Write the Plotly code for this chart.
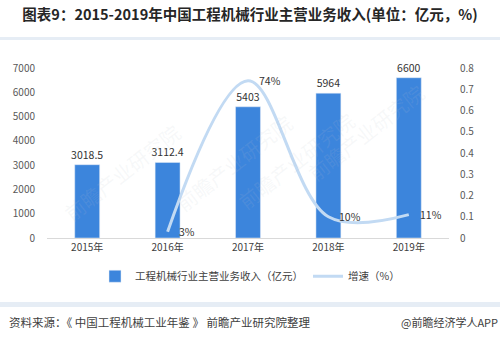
import plotly.graph_objects as go

# Revenue of China's construction machinery industry, 2015-2019
years = ["2015年", "2016年", "2017年", "2018年", "2019年"]
revenue = [3018.5, 3112.4, 5403, 5964, 6600]          # 亿元
growth = [None, 0.03, 0.74, 0.10, 0.11]               # growth rate
growth_labels = ["", "3%", "74%", "10%", "11%"]
revenue_labels = ["3018.5", "3112.4", "5403", "5964", "6600"]

FONT = "Noto Sans CJK SC"
TICK = "#595959"

fig = go.Figure()

fig.add_trace(go.Bar(
    x=years, y=revenue, name="工程机械行业主营业务收入（亿元）",
    marker=dict(color="#3c85dc"), width=0.31,
    text=revenue_labels, textposition="outside", cliponaxis=False,
    constraintext="none",
    textfont=dict(size=10.5, color="#333333", family=FONT),
))

fig.add_trace(go.Scatter(
    x=years, y=growth, name="增速（%）", yaxis="y2",
    mode="lines", line=dict(color="#c2daf3", width=3, shape="spline", smoothing=1.0),
    connectgaps=False, cliponaxis=False,
))

# growth labels sit just right of each point
for yr, g, lab in zip(years, growth, growth_labels):
    if g is None:
        continue
    fig.add_annotation(x=yr, y=g, xref="x", yref="y2", text=lab, showarrow=False,
                       xanchor="left", yanchor="middle", xshift=9,
                       font=dict(size=10.5, color="#333333", family=FONT))

# faint diagonal watermarks
for (wx, wy, ang, sz) in [(0.30, 0.78, -38, 20), (0.96, 0.62, -38, 20),
                          (0.62, 0.12, -38, 20), (0.02, 0.05, -38, 20)]:
    fig.add_annotation(text="前瞻产业研究院", x=wx, y=wy, xref="paper", yref="paper",
                       showarrow=False, textangle=ang,
                       font=dict(size=sz, color="rgba(190,195,205,0.12)", family=FONT))

fig.update_layout(
    width=500, height=342,
    margin=dict(l=47, r=51, t=68, b=104),
    paper_bgcolor="white", plot_bgcolor="white",
    font=dict(family=FONT, color=TICK, size=10),
    bargap=0.69,
    showlegend=True,
    legend=dict(orientation="h", x=0.505, xanchor="center", y=-0.225, yanchor="middle",
                font=dict(size=10.5, color="#404040", family=FONT),
                itemwidth=30, tracegroupgap=0),
    xaxis=dict(showgrid=False, showline=True, linecolor="#d9d9d9", linewidth=1,
               ticks="", tickfont=dict(size=10, color="#404040")),
    yaxis=dict(range=[0, 7000], dtick=1000, showgrid=False, zeroline=False,
               showline=False, ticks="", tickfont=dict(size=10, color=TICK),
               ticklabelstandoff=11),
    yaxis2=dict(range=[0, 0.8], dtick=0.1, overlaying="y", side="right",
                showgrid=False, zeroline=False, showline=False, ticks="",
                tickfont=dict(size=10, color=TICK), ticklabelstandoff=10),
    title=dict(text="<b>图表9：2015-2019年中国工程机械行业主营业务收入(单位：亿元，%)</b>",
               x=0.5, xanchor="center", y=1 - 15 / 342, yanchor="middle",
               font=dict(size=14.5, color="#262626", family=FONT)),
)

# light bands under the title and above the source note
fig.add_shape(type="rect", xref="paper", yref="paper",
              x0=-47 / 402, x1=1 + 51 / 402, y0=(238 - 40) / 170, y1=(238 - 37) / 170,
              fillcolor="#e6edf5", line=dict(width=0), layer="below")
fig.add_shape(type="rect", xref="paper", yref="paper",
              x0=-47 / 402, x1=1 + 51 / 402, y0=(238 - 307) / 170, y1=(238 - 302) / 170,
              fillcolor="#e6edf5", line=dict(width=0), layer="below")

fig.add_annotation(text="资料来源：《 中国工程机械工业年鉴 》 前瞻产业研究院整理",
                   xref="paper", yref="paper", x=-40 / 402, y=(238 - 322) / 170,
                   xanchor="left", yanchor="middle", showarrow=False,
                   font=dict(size=11.5, color="#404040", family=FONT))
fig.add_annotation(text="@前瞻经济学人APP",
                   xref="paper", yref="paper", x=1 + 51 / 402, y=(238 - 322) / 170,
                   xanchor="right", yanchor="middle", showarrow=False,
                   font=dict(size=11, color="#404040", family=FONT))

fig.write_html("out.html")
